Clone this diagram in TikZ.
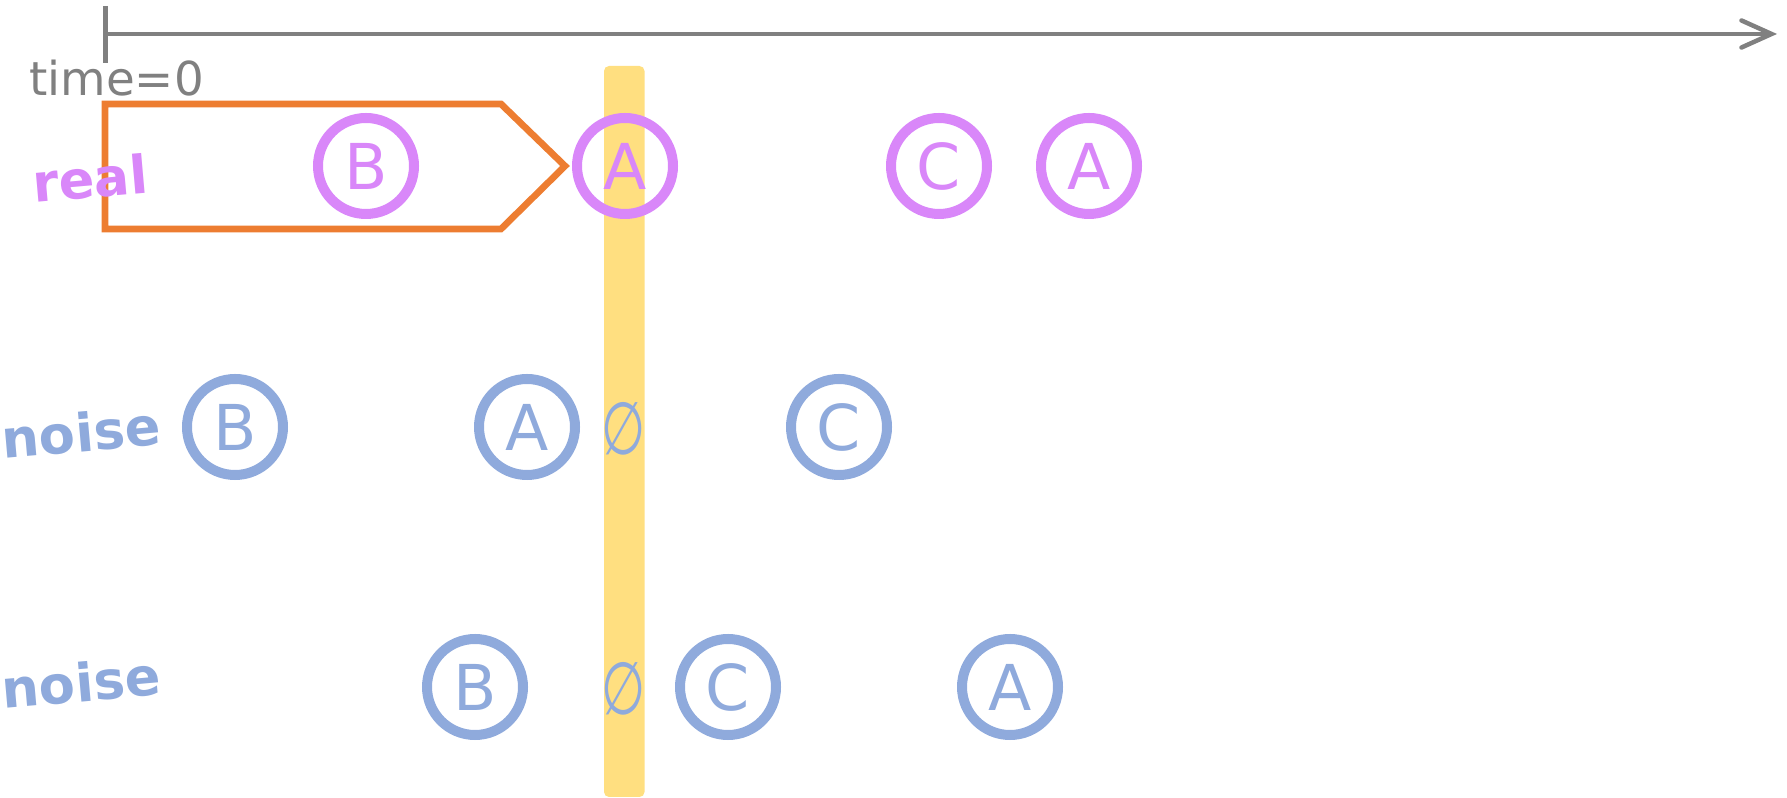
\documentclass[tikz,border=0pt]{standalone}
\usepackage{fontspec}
\setmainfont{DejaVu Sans}
\usetikzlibrary{arrows.meta}
\definecolor{realc}{RGB}{217,135,249}
\definecolor{noisec}{RGB}{143,170,220}
\definecolor{boxc}{RGB}{237,125,49}
\definecolor{barc}{RGB}{255,223,128}
\definecolor{axisc}{RGB}{128,128,128}
\begin{document}
\begin{tikzpicture}[tok/.style={circle, draw, line width=0.1cm, minimum size=0.96cm, inner sep=0pt, font=\fontsize{18}{18}\selectfont},
    realtok/.style={tok, draw=realc, text=realc},
    noisetok/.style={tok, draw=noisec, text=noisec},
    nonetok/.style={text=noisec, inner sep=0pt, xscale=0.8, yscale=1.16, transform shape, font=\fontsize{18}{18}\selectfont},
    row/.style={font=\bfseries\fontsize{15}{15}\selectfont, rotate=5, inner sep=0pt}]
    \useasboundingbox (0,0) rectangle (17.87,-7.98);

    % time axis
    \coordinate (t0) at (1.05,-0.34);
    \coordinate (tend) at (17.77,-0.34);
    \draw[axisc, line width=0.045cm, -{Straight Barb[length=0.3cm, width=0.27cm, line cap=round]}] (t0) -- (tend);
    \draw[axisc, line width=0.05cm] ([yshift=0.28cm]t0) -- ([yshift=-0.29cm]t0);
    \node[anchor=base, text=axisc, inner sep=0pt, font=\fontsize{13.3}{13.3}\selectfont] (tlabel) at (1.165,-0.96) {time=0};

    % current step
    \fill[barc, rounded corners=0.05cm] (6.04,-0.66) rectangle (6.445,-7.97);

    % window
    \draw[boxc, line width=0.067cm] (1.05,-1.04) -- (5.01,-1.04) -- (5.65,-1.66) -- (5.01,-2.29) -- (1.05,-2.29) -- cycle;

    % rows
    \node[row, text=realc] (real) at (0.90,-1.78) {real};
    \node[row, text=noisec] (noise1) at (0.81,-4.32) {noise};
    \node[row, text=noisec] (noise2) at (0.81,-6.82) {noise};

    \node[realtok] (rB) at (3.66,-1.66) {B};
    \node[realtok] (rA) at (6.25,-1.66) {A};
    \node[realtok] (rC) at (9.39,-1.66) {C};
    \node[realtok] (rA2) at (10.89,-1.66) {A};

    \node[noisetok] (aB) at (2.35,-4.27) {B};
    \node[noisetok] (aA) at (5.27,-4.27) {A};
    \node[nonetok] (aN) at (6.24,-4.29) {∅};
    \node[noisetok] (aC) at (8.39,-4.27) {C};

    \node[noisetok] (bB) at (4.75,-6.87) {B};
    \node[nonetok] (bN) at (6.24,-6.89) {∅};
    \node[noisetok] (bC) at (7.28,-6.87) {C};
    \node[noisetok] (bA) at (10.10,-6.87) {A};
\end{tikzpicture}
\end{document}
